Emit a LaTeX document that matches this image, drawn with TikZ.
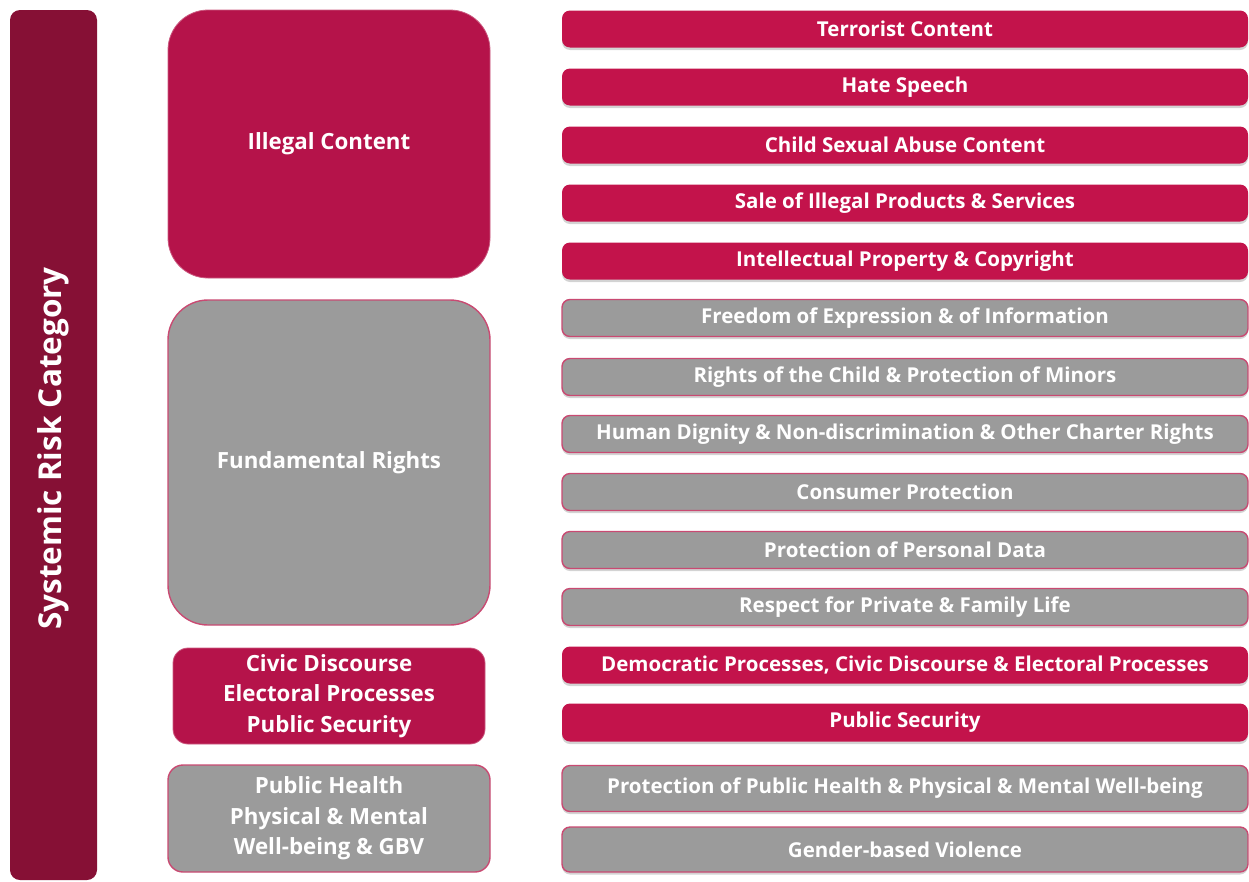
\documentclass[tikz,border=0pt]{standalone}
\usepackage{fontspec}
\setmainfont{Open Sans}
\usetikzlibrary{shadows}
\definecolor{riskdark}{HTML}{861035}
\definecolor{riskred}{HTML}{B5134A}
\definecolor{riskbar}{HTML}{C3134B}
\definecolor{riskgrey}{HTML}{9B9B9B}
\definecolor{riskedge}{HTML}{C94A72}
\tikzset{
    catbox/.style={inner sep=0pt, align=center, text=white,
        font=\bfseries\fontsize{22.3}{30.5}\selectfont},
    catred/.style={catbox, fill=riskred, draw=riskred!70!white, line width=0.8pt},
    catgrey/.style={catbox, fill=riskgrey, draw=riskedge, line width=1.4pt},
    riskbar/.style={inner sep=0pt, text=white, minimum width=686pt,
        rounded corners=8pt, font=\bfseries\fontsize{20.5}{24}\selectfont,
        drop shadow={shadow xshift=0pt, shadow yshift=-2.5pt, opacity=0.35}},
    barred/.style={riskbar, fill=riskbar},
    bargrey/.style={riskbar, fill=riskgrey, draw=riskedge, line width=1.4pt},
}

\begin{document}
\begin{tikzpicture}[x=1pt, y=-1pt]
    \useasboundingbox (0,0) rectangle (1249,881);
    % category column on the far left
    \node[fill=riskdark, rounded corners=10pt, minimum width=87pt, minimum height=870pt,
        inner sep=0pt] (column) at (53.5,445) {};
    \node[rotate=90, text=white, font=\bfseries\fontsize{31.5}{34}\selectfont] (columnlabel)
        at (53.5,448.5) {Systemic Risk Category};

    % the four groups
    \node[catred, rounded corners=40pt, minimum width=322pt, minimum height=268pt]
        (illegal) at (329,144) {Illegal Content};
    \node[catgrey, rounded corners=40pt, minimum width=322pt, minimum height=325pt]
        (rights) at (329,462.5) {Fundamental Rights};
    \node[catred, rounded corners=15pt, minimum width=312pt, minimum height=96pt]
        (civic) at (329,696) {Civic Discourse\\Electoral Processes\\Public Security};
    \node[catgrey, rounded corners=15pt, minimum width=322pt, minimum height=107pt]
        (health) at (329,818.5) {Public Health\\Physical \& Mental\\Well-being \& GBV};

    % individual risks
    \foreach \y/\name/\txt in {
        29/terror/Terrorist Content,
        87/hate/Hate Speech,
        145/csam/Child Sexual Abuse Content,
        203/sale/Sale of Illegal Products \& Services,
        261/ipr/Intellectual Property \& Copyright}
        \node[barred, minimum height=37pt] (\name) at (905,\y) {\txt};
    \foreach \y/\name/\txt in {
        318/expression/Freedom of Expression \& of Information,
        377/child/Rights of the Child \& Protection of Minors,
        434/dignity/Human Dignity \& Non-discrimination \& Other Charter Rights,
        492/consumer/Consumer Protection,
        550/privacydata/Protection of Personal Data,
        607/family/Respect for Private \& Family Life}
        \node[bargrey, minimum height=37pt] (\name) at (905,\y) {\txt};
    \node[barred, minimum height=37pt] (democracy) at (905,665)
        {Democratic Processes, Civic Discourse \& Electoral Processes};
    \node[barred, minimum height=38pt] (security) at (905,722.5) {Public Security};
    \node[bargrey, minimum height=46pt] (wellbeing) at (905,788.5)
        {Protection of Public Health \& Physical \& Mental Well-being};
    \node[bargrey, minimum height=45pt] (gbv) at (905,849.5) {Gender-based Violence};
\end{tikzpicture}
\end{document}
